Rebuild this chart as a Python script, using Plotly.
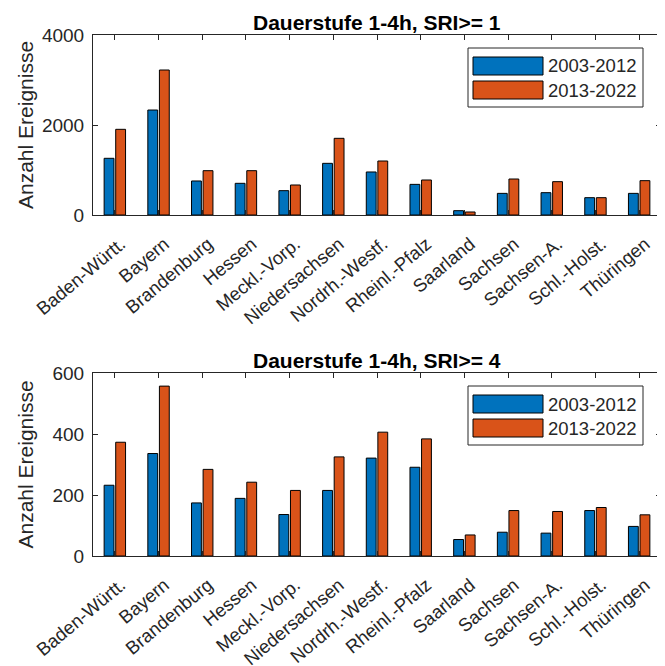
import plotly.graph_objects as go

states = ["Baden-Württ.", "Bayern", "Brandenburg", "Hessen", "Meckl.-Vorp.", "Niedersachsen",
          "Nordrh.-Westf.", "Rheinl.-Pfalz", "Saarland", "Sachsen", "Sachsen-A.", "Schl.-Holst.", "Thüringen"]
sri1_2003 = [1260, 2333, 756, 704, 541, 1148, 956, 681, 96, 481, 496, 385, 481]
sri1_2013 = [1904, 3222, 985, 985, 667, 1704, 1200, 778, 67, 800, 741, 385, 763]
sri4_2003 = [232, 336, 174, 189, 136, 215, 321, 291, 54, 78, 75, 149, 97]
sri4_2013 = [373, 557, 284, 242, 215, 325, 406, 384, 69, 149, 146, 159, 135]
periods = ["2003-2012", "2013-2022"]
titles = ["Dauerstufe 1-4h, SRI>= 1", "Dauerstufe 1-4h, SRI>= 4"]

BLUE = "#0072BD"
ORANGE = "#D95319"
AX = "#262626"
FONT = "Arial"

# page body has an 8px default margin -> figure is drawn 8px shifted
OFF = 8
W, H = 665 - OFF, 666 - OFF
# plot area in screen pixels
L_SCR, R_SCR = 93, 661
ML, MR = L_SCR - OFF, W - (R_SCR - OFF)
MT, MB = 35 - OFF, H - (556 - OFF)
PW, PH = W - ML - MR, H - MT - MB

def px(xs):
    return (xs - OFF - ML) / PW

def py(ys):
    return (H - MB - (ys - OFF)) / PH

x = list(range(1, len(states) + 1))
fig = go.Figure()

for a, b, xa, ya in [(sri1_2003, sri1_2013, "x", "y"), (sri4_2003, sri4_2013, "x2", "y2")]:
    for vals, col, name in [(a, BLUE, periods[0]), (b, ORANGE, periods[1])]:
        fig.add_trace(go.Bar(x=x, y=vals, name=name, marker=dict(color=col, line=dict(color="black", width=1)),
                             xaxis=xa, yaxis=ya, offsetgroup=name, showlegend=False))

plot_tops = [35, 373]
plot_bots = [215, 556]
doms = [[py(b), py(t)] for t, b in zip(plot_tops, plot_bots)]

def xax(anchor):
    return dict(range=[0.5, 13.5], tickvals=x, ticktext=states, tickangle=-40, ticks="inside", ticklen=5,
                tickcolor=AX, showline=True, linecolor=AX, linewidth=1, mirror="ticks", showgrid=False,
                tickfont=dict(family=FONT, size=18.5, color=AX), anchor=anchor, zeroline=False,
                automargin=False, ticklabelstandoff=10, ticklabelshift=6)

def yax(rng, dtick, dom, anchor):
    return dict(range=rng, dtick=dtick, domain=dom, ticks="inside", ticklen=5, tickcolor=AX, showline=True,
                linecolor=AX, linewidth=1, mirror="ticks", showgrid=False, zeroline=False,
                tickfont=dict(family=FONT, size=19, color=AX), anchor=anchor, automargin=False,
                ticklabelstandoff=4)

fig.update_layout(
    width=W, height=H, margin=dict(l=ML, r=MR, t=MT, b=MB, autoexpand=False),
    paper_bgcolor="white", plot_bgcolor="white",
    barmode="group", bargap=0.47, bargroupgap=0.15,
    xaxis=xax("y"), yaxis=yax([0, 4000], 2000, doms[0], "x"),
    xaxis2=xax("y2"), yaxis2=yax([0, 600], 200, doms[1], "x2"),
    showlegend=False,
)

for k, (t, top, bot) in enumerate(zip(titles, plot_tops, plot_bots)):
    fig.add_annotation(text="<b>%s</b>" % t, xref="paper", yref="paper", x=0.5, y=py(top), yshift=-1,
                       xanchor="center", yanchor="bottom", showarrow=False,
                       font=dict(family=FONT, size=21, color="black"))
    fig.add_annotation(text="Anzahl Ereignisse", xref="paper", yref="paper", x=px(25), y=py((top + bot) / 2),
                       xanchor="center", yanchor="middle", textangle=-90, showarrow=False,
                       font=dict(family=FONT, size=21, color=AX))
    o = top - 35
    fig.add_shape(type="rect", xref="paper", yref="paper", x0=px(468), x1=px(643), y0=py(107 + o), y1=py(48 + o),
                  line=dict(color=AX, width=1), fillcolor="white", layer="above")
    for j, (name, col) in enumerate(zip(periods, [BLUE, ORANGE])):
        y0, y1 = 57 + o + 24 * j, 75 + o + 24 * j
        fig.add_shape(type="rect", xref="paper", yref="paper", x0=px(473), x1=px(543), y0=py(y1), y1=py(y0),
                      line=dict(color="black", width=1), fillcolor=col, layer="above")
        fig.add_annotation(text=name, xref="paper", yref="paper", x=px(546), y=py((y0 + y1) / 2),
                           xanchor="left", yanchor="middle", showarrow=False,
                           font=dict(family=FONT, size=18.5, color=AX))

fig.write_html("out.html")
